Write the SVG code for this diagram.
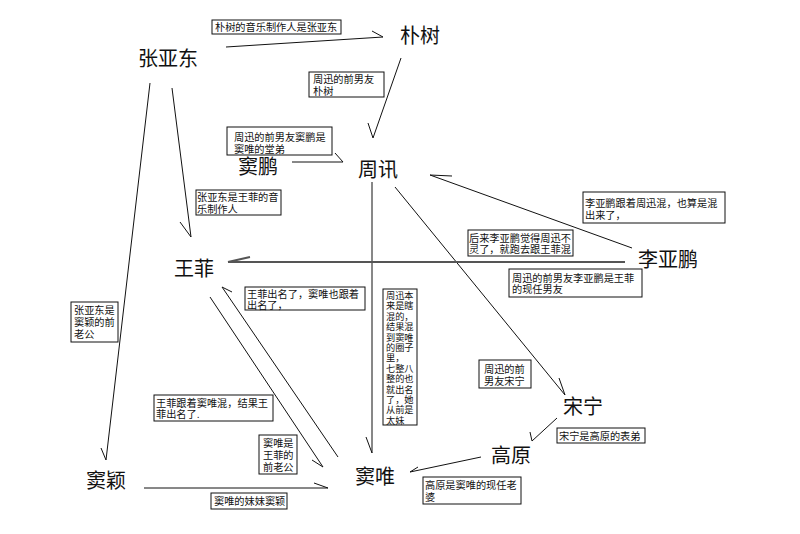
<svg xmlns="http://www.w3.org/2000/svg" width="800" height="534" viewBox="0 0 800 534">
<style>
.node{font-family:"Liberation Sans","Noto Sans CJK SC",sans-serif;font-size:20px;fill:#111}
.lbl rect{fill:#fff;stroke:#111;stroke-width:1}
.lbl text{font-family:"Liberation Sans","Noto Sans CJK SC",sans-serif;font-size:10.2px;fill:#111}
.lbl text.v{font-size:9.2px}
.conn path{fill:none;stroke:#111;stroke-width:1}
.conn path.thick{stroke:#555;stroke-width:2}
</style>
<rect width="800" height="534" fill="#fff"/>
<g class="conn" id="connectors">
<path id="e1" d="M226 47 L383 37 M372 31 L383 37"/>
<path id="e2" d="M401 58 L373 138 M368 123 L373 138"/>
<path id="e3" d="M292 162 L343 162 M335 153 L343 162"/>
<path id="e4" d="M172 88 L191 237 M180 222 L191 237"/>
<path id="e5" d="M150 83 L106 460 M101 448 L106 460"/>
<path id="e6" d="M372 182 L372 453 M366 437 L372 453"/>
<path id="e7" d="M395 187 L565 395 M559 378 L565 395"/>
<path id="e8" d="M632 248 L430 175 M452 176 L430 175"/>
<path id="e9" class="thick" d="M625 262 L228 262 M250 257 L228 262"/>
<path id="e10" d="M210 297 L323 467 M312 460 L323 467"/>
<path id="e11" d="M338 457 L222 287 M232 292 L222 287"/>
<path id="e12" d="M557 418 L532 441 M530 432 L532 441"/>
<path id="e13" d="M481 457 L410 472 M418 467 L410 472"/>
<path id="e14" d="M144 488 L328 488 M314 483 L328 488"/>
</g>
<g id="n-zhangyadong"><text class="node" x="138" y="66">张亚东</text></g>
<g id="n-pushu"><text class="node" x="400" y="43">朴树</text></g>
<g id="n-doupeng"><text class="node" x="238" y="174">窦鹏</text></g>
<g id="n-zhouxun"><text class="node" x="358" y="177">周讯</text></g>
<g id="n-wangfei"><text class="node" x="174" y="276">王菲</text></g>
<g id="n-liyapeng"><text class="node" x="638" y="267">李亚鹏</text></g>
<g id="n-songning"><text class="node" x="563" y="414">宋宁</text></g>
<g id="n-gaoyuan"><text class="node" x="491" y="463">高原</text></g>
<g id="n-douwei"><text class="node" x="355" y="484">窦唯</text></g>
<g id="n-douying"><text class="node" x="86" y="488">窦颖</text></g>

<g class="lbl" id="l1"><rect x="212" y="20" width="129" height="14"/><text x="215" y="31">朴树的音乐制作人是张亚东</text></g>
<g class="lbl" id="l2"><rect x="309" y="72" width="75" height="25"/><text x="313" y="83">周迅的前男友<tspan x="313" dy="11.5">朴树</tspan></text></g>
<g class="lbl" id="l3"><rect x="227" y="127" width="105" height="28"/><text x="234" y="141">周迅的前男友窦鹏是<tspan x="234" dy="11.5">窦唯的堂弟</tspan></text></g>
<g class="lbl" id="l4"><rect x="196" y="190" width="85" height="25"/><text x="197" y="201">张亚东是王菲的音<tspan x="197" dy="11.5">乐制作人</tspan></text></g>
<g class="lbl" id="l5"><rect x="583" y="192" width="142" height="31"/><text x="585" y="207">李亚鹏跟着周迅混，也算是混<tspan x="585" dy="11.5">出来了，</tspan></text></g>
<g class="lbl" id="l6"><rect x="468" y="230" width="105" height="26"/><text x="469" y="241.5">后来李亚鹏觉得周迅不<tspan x="469" dy="11.5">灵了，就跑去跟王菲混</tspan></text></g>
<g class="lbl" id="l7"><rect x="509" y="269" width="133" height="28"/><text x="512" y="281.5">周迅的前男友李亚鹏是王菲<tspan x="512" dy="11.5">的现任男友</tspan></text></g>
<g class="lbl" id="l8"><rect x="245" y="287" width="120" height="23"/><text x="247" y="297.5">王菲出名了，窦唯也跟着<tspan x="247" dy="11.5">出名了，</tspan></text></g>
<g class="lbl" id="l9"><rect x="383" y="289" width="34" height="136"/><text class="v" x="386" y="299">周迅本<tspan x="386" dy="10.4">来是瞎</tspan><tspan x="386" dy="10.4">混的，</tspan><tspan x="386" dy="10.4">结果混</tspan><tspan x="386" dy="10.4">到窦唯</tspan><tspan x="386" dy="10.4">的圈子</tspan><tspan x="386" dy="10.4">里，</tspan><tspan x="386" dy="10.4">七整八</tspan><tspan x="386" dy="10.4">整的也</tspan><tspan x="386" dy="10.4">就出名</tspan><tspan x="386" dy="10.4">了，她</tspan><tspan x="386" dy="10.4">从前是</tspan><tspan x="386" dy="10.4">太妹</tspan></text></g>
<g class="lbl" id="l10"><rect x="71" y="302" width="47" height="40"/><text x="74" y="314">张亚东是<tspan x="74" dy="12">窦颖的前</tspan><tspan x="74" dy="12">老公</tspan></text></g>
<g class="lbl" id="l11"><rect x="479" y="360" width="52" height="28"/><text x="484" y="373">周迅的前<tspan x="484" dy="11.5">男友宋宁</tspan></text></g>
<g class="lbl" id="l12"><rect x="154" y="395" width="119" height="26"/><text x="156" y="406.5">王菲跟着窦唯混，结果王<tspan x="156" dy="11.5">菲出名了.</tspan></text></g>
<g class="lbl" id="l13"><rect x="259" y="435" width="38" height="39"/><text x="263" y="447">窦唯是<tspan x="263" dy="12">王菲的</tspan><tspan x="263" dy="12">前老公</tspan></text></g>
<g class="lbl" id="l14"><rect x="557" y="428" width="88" height="15"/><text x="559" y="440">宋宁是高原的表弟</text></g>
<g class="lbl" id="l15"><rect x="211" y="493" width="76" height="16"/><text x="214" y="505">窦唯的妹妹窦颖</text></g>
<g class="lbl" id="l16"><rect x="423" y="477" width="98" height="27"/><text x="425" y="489">高原是窦唯的现任老<tspan x="425" dy="11.5">婆</tspan></text></g>
</svg>
